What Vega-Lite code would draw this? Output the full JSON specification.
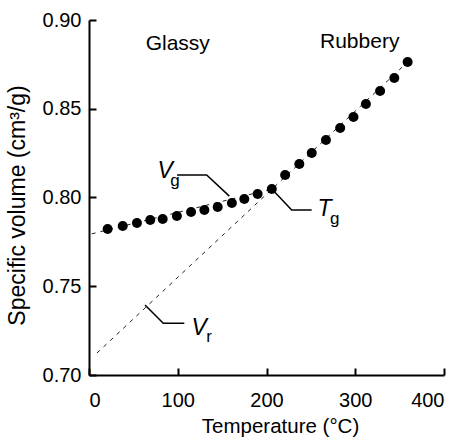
{
  "$schema": "https://vega.github.io/schema/vega-lite/v6.json",
  "width": 355,
  "height": 355,
  "autosize": "none",
  "padding": {"left": 89, "top": 20, "right": 22, "bottom": 65},
  "background": "white",
  "config": {
    "font": "Liberation Sans",
    "view": {"stroke": null},
    "axis": {
      "grid": false,
      "domainColor": "black",
      "domainWidth": 2,
      "tickColor": "black",
      "tickWidth": 2,
      "labelColor": "black",
      "titleColor": "black",
      "titleFontWeight": "normal"
    }
  },
  "datasets": {
    "points": [
      {"T": 21, "v": 0.7823}, {"T": 38, "v": 0.7839}, {"T": 54, "v": 0.7856},
      {"T": 69, "v": 0.7873}, {"T": 83, "v": 0.7879}, {"T": 99, "v": 0.7896},
      {"T": 115, "v": 0.7918}, {"T": 130, "v": 0.793}, {"T": 145, "v": 0.7946},
      {"T": 161, "v": 0.7969}, {"T": 175, "v": 0.7992}, {"T": 190, "v": 0.802},
      {"T": 206, "v": 0.8048}, {"T": 221, "v": 0.8127}, {"T": 237, "v": 0.8189},
      {"T": 251, "v": 0.8251}, {"T": 267, "v": 0.8324}, {"T": 283, "v": 0.8392},
      {"T": 298, "v": 0.8454}, {"T": 312, "v": 0.8527}, {"T": 328, "v": 0.86},
      {"T": 344, "v": 0.8673}, {"T": 359, "v": 0.8763}
    ],
    "dashed": [
      {"line": "rubbery", "T": 9, "v": 0.7124}, {"line": "rubbery", "T": 359, "v": 0.8763},
      {"line": "glassy", "T": 3, "v": 0.7795}, {"line": "glassy", "T": 206, "v": 0.8048}
    ],
    "leaders": [
      {"label": "Vg", "T": 99.2, "v": 0.8127}, {"label": "Vg", "T": 132.6, "v": 0.8127}, {"label": "Vg", "T": 158.1, "v": 0.8008},
      {"label": "Tg", "T": 206, "v": 0.8048}, {"label": "Tg", "T": 228.4, "v": 0.793}, {"label": "Tg", "T": 250.9, "v": 0.793},
      {"label": "Vr", "T": 63.1, "v": 0.7394}, {"label": "Vr", "T": 83.7, "v": 0.7291}, {"label": "Vr", "T": 107.4, "v": 0.7291}
    ],
    "symbols": [
      {"text": "V", "T": 77.2, "v": 0.811},
      {"text": "T", "T": 257.5, "v": 0.7896},
      {"text": "V", "T": 115.5, "v": 0.7225}
    ],
    "subscripts": [
      {"text": "g", "T": 91.5, "v": 0.8065},
      {"text": "g", "T": 271.5, "v": 0.7851},
      {"text": "r", "T": 132, "v": 0.7186}
    ],
    "regions": [
      {"text": "Glassy", "T": 100, "v": 0.8831},
      {"text": "Rubbery", "T": 305, "v": 0.8842}
    ]
  },
  "encoding": {
    "x": {
      "field": "T", "type": "quantitative",
      "scale": {"domain": [0, 400], "nice": false},
      "axis": {
        "values": [0, 100, 200, 300, 400], "title": "Temperature (°C)",
        "ticks": true, "tickSize": -7, "labelPadding": 22, "labelFontSize": 20,
        "titleFontSize": 20.5, "titlePadding": 6, "titleX": 191
      }
    },
    "y": {
      "field": "v", "type": "quantitative",
      "scale": {"domain": [0.7, 0.9], "nice": false, "zero": false},
      "axis": {
        "values": [0.7, 0.75, 0.8, 0.85, 0.9], "format": ".2f", "title": "Specific volume (cm³/g)",
        "ticks": true, "tickSize": -7, "labelPadding": 15, "labelFontSize": 20,
        "titleFontSize": 23, "titlePadding": 13, "titleY": 185
      }
    }
  },
  "layer": [
    {
      "data": {"name": "dashed"},
      "mark": {"type": "line", "color": "#222", "strokeWidth": 1, "strokeDash": [4, 5]},
      "encoding": {"detail": {"field": "line"}}
    },
    {
      "data": {"name": "leaders"},
      "mark": {"type": "line", "color": "black", "strokeWidth": 1.5},
      "encoding": {"detail": {"field": "label"}}
    },
    {
      "data": {"name": "points"},
      "mark": {"type": "circle", "color": "black", "opacity": 1, "size": 100}
    },
    {
      "data": {"name": "symbols"},
      "mark": {"type": "text", "align": "left", "baseline": "alphabetic", "fontSize": 23, "fontStyle": "italic", "color": "black"},
      "encoding": {"text": {"field": "text"}}
    },
    {
      "data": {"name": "subscripts"},
      "mark": {"type": "text", "align": "left", "baseline": "alphabetic", "fontSize": 17, "color": "black"},
      "encoding": {"text": {"field": "text"}}
    },
    {
      "data": {"name": "regions"},
      "mark": {"type": "text", "align": "center", "baseline": "alphabetic", "fontSize": 21, "color": "black"},
      "encoding": {"text": {"field": "text"}}
    }
  ]
}
